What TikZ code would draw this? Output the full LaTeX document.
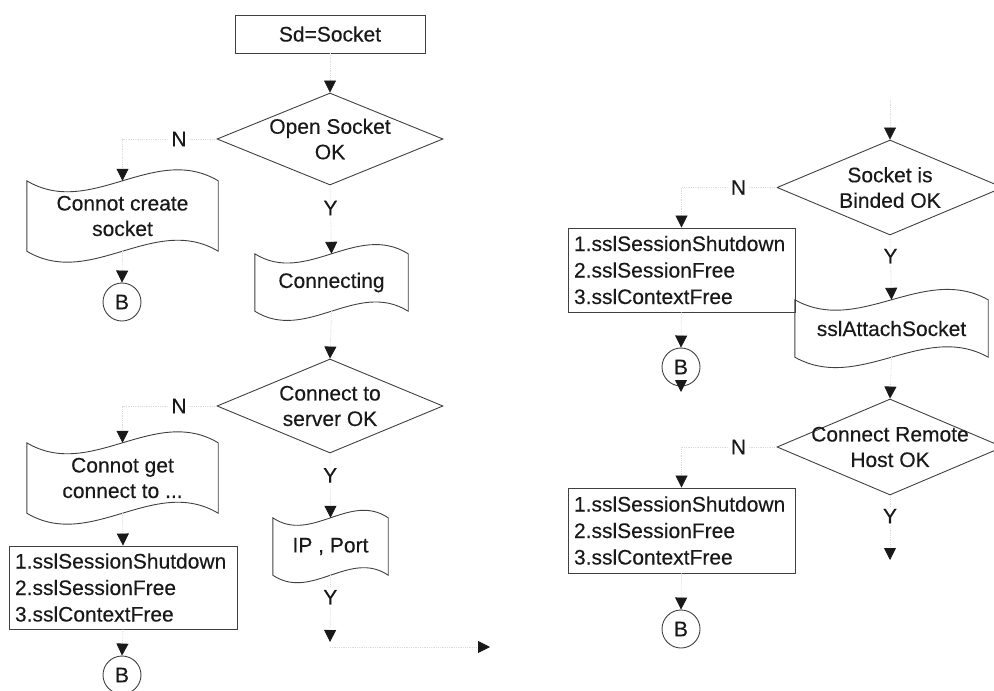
\documentclass[tikz,border=0pt]{standalone}
\usepackage{fontspec}
\setmainfont{Liberation Sans}[FakeBold=0.3]
\usetikzlibrary{shapes.geometric,arrows.meta,calc}

\begin{document}
\begin{tikzpicture}[x=1pt,y=-1pt,
  txt/.style={font=\fontsize{21}{25.5}\selectfont, text=black!90},
  outline/.style={draw=black!75, line width=0.9pt},
  procbox/.style={txt, outline, rectangle, inner sep=0pt, align=center},
  listbox/.style={txt, outline, rectangle, inner sep=0pt, align=left,
    font=\fontsize{21}{26.5}\selectfont},
  tapebox/.style={txt, rectangle, inner sep=0pt, align=center},
  decision/.style={outline, diamond, inner sep=0pt, minimum width=226pt},
  dtext/.style={txt, align=center, inner sep=0pt},
  connector/.style={txt, outline, circle, minimum size=38pt, inner sep=0pt},
  lab/.style={txt, fill=white, inner sep=2pt},
  conn/.style={draw=gray!28, densely dotted, line width=0.8pt,
    -{Triangle[width=12pt,length=12pt,color=black!90]}},
]
\useasboundingbox (0,0) rectangle (994,691);

% ---------- left / centre column ----------
\node[procbox, minimum width=190pt, minimum height=38pt] (sd) at (330,34) {Sd=Socket};

\node[decision, minimum height=92pt,
  label={[dtext]center:Open Socket\\OK}] (d1) at (330,139) {};

\node[tapebox, minimum width=191pt, minimum height=70pt] (cs) at (122.5,216) {Connot create\\socket};
\node[connector] (b1) at (122,302) {B};

\node[tapebox, minimum width=153pt, minimum height=57pt] (cn) at (331.5,282.5) {Connecting};

\node[decision, minimum height=94pt,
  label={[dtext]center:Connect to\\server OK}] (d2) at (330,406) {};

\node[tapebox, minimum width=191pt, minimum height=70pt] (cg) at (122.5,478) {Connot get\\connect to ...};

\node[listbox, minimum width=228pt, minimum height=83pt, text width=216pt] (f1) at (123,587.5)
  {1.sslSessionShutdown\\2.sslSessionFree\\3.sslContextFree};
\node[connector] (b2) at (122,675) {B};

\node[tapebox, minimum width=115pt, minimum height=57pt] (ip) at (330.5,546.5) {IP , Port};

\coordinate (e1) at (330,642);
\coordinate (e2) at (330,647);
\coordinate (e3) at (490,647);

% ---------- right column ----------
\coordinate (s0) at (890,100);
\node[decision, minimum height=95pt,
  label={[dtext]center:Socket is\\Binded OK}] (d3) at (890,187.5) {};

\node[listbox, minimum width=227pt, minimum height=84pt, text width=215pt] (f2) at (681.5,270)
  {1.sslSessionShutdown\\2.sslSessionFree\\3.sslContextFree};
\node[connector] (b3) at (681,367) {B};
\coordinate (b3out) at (681,392);

\node[tapebox, minimum width=193pt, minimum height=57pt] (sa) at (891.5,328.5) {sslAttachSocket};

\node[decision, minimum height=96pt,
  label={[dtext]center:Connect Remote\\Host OK}] (d4) at (890,447) {};

\node[listbox, minimum width=227pt, minimum height=85pt, text width=215pt] (f3) at (681.5,530.5)
  {1.sslSessionShutdown\\2.sslSessionFree\\3.sslContextFree};
\node[connector] (b4) at (681,629) {B};

\coordinate (e4) at (890,560);

% ---------- wavy outlines of the tape boxes ----------
\foreach \n/\c in {cs/38, cn/32, cg/38, ip/26, sa/36} {
  \draw[outline]
    (\n.north west)
      .. controls ($(\n.north west)!1/3!(\n.north east)+(0,\c)$)
              and ($(\n.north west)!2/3!(\n.north east)+(0,-\c)$) .. (\n.north east)
    -- (\n.south east)
      .. controls ($(\n.south west)!2/3!(\n.south east)+(0,-\c)$)
              and ($(\n.south west)!1/3!(\n.south east)+(0,\c)$) .. (\n.south west)
    -- cycle;
}

% ---------- connectors ----------
\draw[conn] (sd) -- (d1.north);
\draw[conn] (d1.west) -| node[lab, pos=0.2] {N} (cs.north);
\draw[conn] (cs.south) -- (b1.north);
\draw[conn] (d1.south) -- node[lab, pos=0.33] {Y} (cn.north);
\draw[conn] (cn.south) -- (d2.north);
\draw[conn] (d2.west) -| node[lab, pos=0.2] {N} (cg.north);
\draw[conn] (cg.south) -- (f1.north);
\draw[conn] (f1.south) -- (b2.north);
\draw[conn] (d2.south) -- node[lab, pos=0.34] {Y} (ip.north);
\draw[conn] (ip.south) -- node[lab, pos=0.33] {Y} (e1);
\draw[conn] (e2) -- (e3);

\draw[conn] (s0) -- (d3.north);
\draw[conn] (d3.west) -| node[lab, pos=0.2] {N} (f2.north);
\draw[conn] (f2.south) -- (b3.north);
\draw[conn] ([yshift=5pt]b3.south) -- (b3out);
\draw[conn] (d3.south) -- node[lab, pos=0.32] {Y} (sa.north);
\draw[conn] (sa.south) -- (d4.north);
\draw[conn] (d4.west) -| node[lab, pos=0.2] {N} (f3.north);
\draw[conn] (f3.south) -- (b4.north);
\draw[conn] (d4.south) -- node[lab, pos=0.32] {Y} (e4);
\end{tikzpicture}
\end{document}
